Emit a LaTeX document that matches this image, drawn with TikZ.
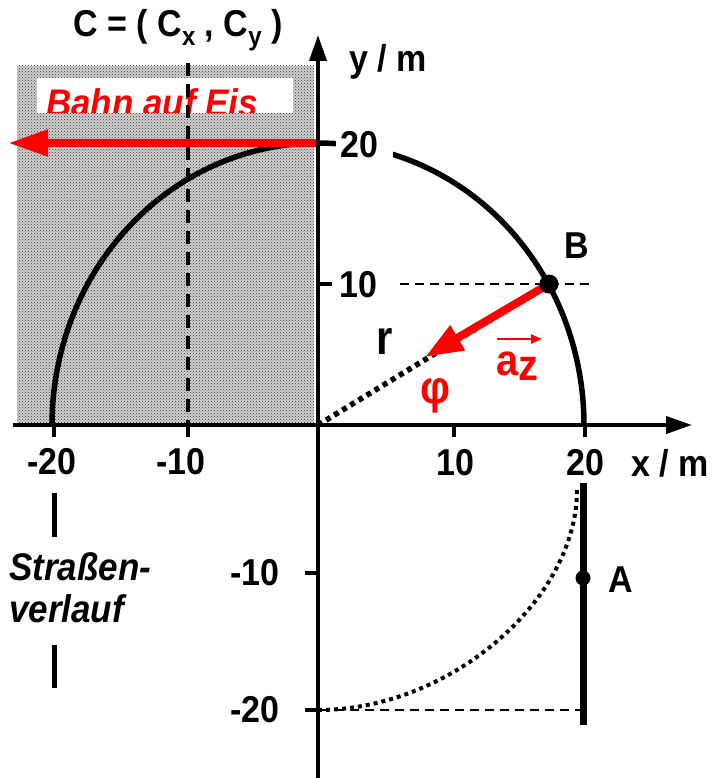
\documentclass[tikz,border=0pt]{standalone}
\usepackage{graphicx}
\usepackage{fontspec}
\setmainfont{Liberation Sans}
\usetikzlibrary{arrows.meta,patterns}
\definecolor{pured}{RGB}{255,0,0}
\newcommand{\vst}[1]{\scalebox{1}[1.1]{#1}}
\begin{document}
\begin{tikzpicture}[x=1pt,y=-1pt,
  lbl/.style={font=\fontsize{34}{34}\selectfont\bfseries, inner sep=0pt},
  ilbl/.style={font=\fontsize{35}{35}\selectfont\bfseries\itshape, inner sep=0pt},
  axisline/.style={line width=4pt, -{Triangle[length=26pt,width=17pt]}},
  tickline/.style={line width=4pt},
  thindash/.style={line width=2pt, dash pattern=on 9pt off 6pt},
  thickdash/.style={line width=4pt, dash pattern=on 13pt off 8pt},
  redarrow/.style={pured, line width=8pt, -{Triangle[length=40pt,width=25pt]}},
  dotpt/.style={circle, fill=black, inner sep=0pt}
]
\useasboundingbox (0,0) rectangle (714,778);

% coordinates
\coordinate (O) at (318,425);
\coordinate (B) at (549,284);
\coordinate (Atop) at (583,483);
\coordinate (Abot) at (583,725);

% shaded ice region
\fill[black!18] (17,66) rectangle (314,425);
\fill[pattern=crosshatch dots, pattern color=black!80] (17,66) rectangle (314,425);

% white label box with clipped text
\fill[white] (37,78) rectangle (293,113);
\begin{scope}
  \clip (37,78) rectangle (293,113);
  \node[ilbl, text=pured, anchor=base west] (eis) at (46,117) {\vst{Bahn auf Eis}};
\end{scope}

% dashed vertical line x = -10
\coordinate (dtop) at (188,63);
\coordinate (dbot) at (188,425);
\draw[thickdash] (dtop) -- (dbot);

% semicircle
\draw[line width=5.5pt] plot[domain=0:180, samples=120, smooth] ({318+266*cos(\x)}, {425-282*sin(\x)});

% white patch behind label 20
\fill[white] (336,124) rectangle (393,166);

% horizontal red arrow
\coordinate (rstart) at (318,143);
\coordinate (rend) at (8,143);
\draw[redarrow] (rstart) -- (rend);

% axes
\coordinate (xl) at (13,425);
\coordinate (xr) at (692,425);
\coordinate (yb) at (318,778);
\coordinate (yt) at (318,35);
\draw[axisline] (xl) -- (xr);
\draw[axisline] (yb) -- (yt);

% ticks
\foreach \tx in {54,188,454,585} \draw[tickline] (\tx,425) -- (\tx,437);
\foreach \ty in {143,284} \draw[tickline] (318,\ty) -- (332,\ty);
\foreach \ty in {573,710} \draw[tickline] (305,\ty) -- (318,\ty);

% thin dashed guide lines
\coordinate (h10a) at (400,284);
\coordinate (h10b) at (591,284);
\draw[thindash] (h10a) -- (h10b);
\coordinate (h20a) at (320,710);
\coordinate (h20b) at (583,710);
\draw[thindash] (h20a) -- (h20b);

% radius (dotted) and red acceleration arrow
\draw[line width=5.5pt, dash pattern=on 5pt off 4.5pt] (O) -- (B);
\coordinate (atip) at (425,357);
\draw[redarrow, -{Triangle[length=38pt,width=27pt]}] (B) -- (atip);
\node[dotpt, minimum size=19pt] (Bdot) at (B) {};

% lower part: road section and dotted curve
\draw[line width=7pt] (Atop) -- (Abot);
\node[dotpt, minimum size=15pt] (Adot) at (583,578) {};
\coordinate (c1) at (577,490);
\coordinate (c2) at (318,710);
\draw[line width=4pt, dash pattern=on 4pt off 4pt] (c1) .. controls (577,600) and (450,710) .. (c2);

% Strassenverlauf markers
\draw[line width=5pt] (54,493) -- (54,537);
\draw[line width=5pt] (54,645) -- (54,688);

% labels
\node[lbl, anchor=base] (ctitle) at (178,37) {\vst{C = ( C\raisebox{-0.22em}{\fontsize{24}{24}\selectfont x} , C\raisebox{-0.22em}{\fontsize{24}{24}\selectfont y} )}};
\node[lbl, anchor=base] (ym) at (388,72) {\vst{y / m}};
\node[lbl, anchor=center] (xm) at (670,463) {\vst{x / m}};
\node[lbl, anchor=west] (y20) at (340,145) {\vst{20}};
\node[lbl, anchor=west] (y10) at (339,285) {\vst{10}};
\node[lbl] (ym10) at (255,573) {\vst{-10}};
\node[lbl] (ym20) at (255,710) {\vst{-20}};
\node[lbl] (xm20) at (52,462) {\vst{-20}};
\node[lbl] (xm10) at (181,462) {\vst{-10}};
\node[lbl] (x10) at (455,463) {\vst{10}};
\node[lbl] (x20) at (585,463) {\vst{20}};
\node[lbl] (Blbl) at (577,246) {\vst{B}};
\node[lbl] (Albl) at (621,580) {\vst{A}};
\node[lbl, font=\fontsize{42}{42}\selectfont\bfseries] (rlbl) at (385,341) {\scalebox{1}[1.15]{r}};
\node[lbl, text=pured, font=\fontsize{42}{42}\selectfont\bfseries] (philbl) at (436,396) {\vst{φ}};
\node[lbl, text=pured, font=\fontsize{40}{40}\selectfont\bfseries, anchor=base west] (azlbl) at (496,375) {\vst{a\raisebox{-0.12em}{z}}};
\coordinate (ava) at (497,339);
\coordinate (avb) at (542,339);
\draw[pured, line width=2.5pt, -{Triangle[length=11pt,width=9pt]}] (ava) -- (avb);
\node[ilbl, anchor=base west] (str1) at (9,580) {\vst{Straßen-}};
\node[ilbl, anchor=base west] (str2) at (9,622) {\vst{verlauf}};
\end{tikzpicture}
\end{document}
